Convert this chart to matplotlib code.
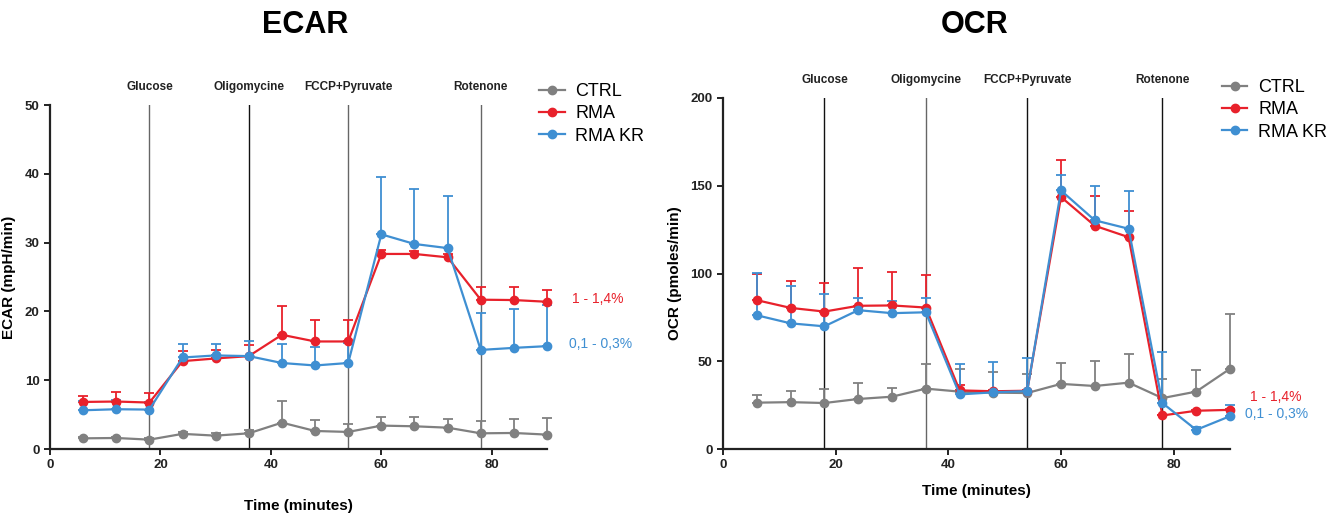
import numpy as np
import matplotlib
matplotlib.use("Agg")
import matplotlib.pyplot as plt

plt.rcParams['font.family'] = ['Liberation Sans', 'DejaVu Sans']

time = [6, 12, 18, 24, 30, 36, 42, 48, 54, 60, 66, 72, 78, 84, 90]
series_names = ["CTRL", "RMA", "RMA KR"]
events = ["Glucose", "Oligomycine", "FCCP+Pyruvate", "Rotenone"]
event_times = [18, 36, 54, 78]

# ECAR (mpH/min): means and upper SD
ecar_ctrl = [1.55, 1.6, 1.36, 2.2, 1.94, 2.28, 3.83, 2.62, 2.48, 3.4, 3.3, 3.1, 2.28, 2.33, 2.09]
ecar_ctrl_err = [0.2, 0.2, 0.2, 0.2, 0.4, 0.55, 3.2, 1.55, 1.2, 1.25, 1.3, 1.3, 1.85, 2.05, 2.4]
ecar_rma = [6.84, 6.9, 6.75, 12.77, 13.16, 13.5, 16.6, 15.63, 15.63, 28.35, 28.35, 27.86, 21.7, 21.65, 21.4]
ecar_rma_err = [0.93, 1.35, 1.35, 1.5, 1.24, 1.55, 4.2, 3.07, 3.17, 0.55, 0.45, 0.5, 1.9, 1.85, 1.75]
ecar_kr = [5.63, 5.78, 5.73, 13.3, 13.6, 13.5, 12.5, 12.14, 12.5, 31.2, 29.8, 29.2, 14.4, 14.7, 14.95]
ecar_kr_err = [1.4, 1.3, 1.1, 1.95, 1.65, 2.2, 2.8, 2.7, 2.9, 8.3, 8.0, 7.6, 5.4, 5.7, 6.05]

# OCR (pmoles/min)
ocr_ctrl = [26.4, 26.7, 26.2, 28.5, 29.8, 34.4, 32.7, 32.1, 31.9, 37.1, 35.9, 37.8, 29.0, 32.7, 45.7]
ocr_ctrl_err = [4.2, 6.5, 8.2, 8.9, 5.0, 13.9, 13.0, 11.6, 11.1, 11.8, 14.0, 16.1, 10.7, 12.4, 31.3]
ocr_rma = [84.8, 80.4, 78.3, 81.6, 81.8, 80.6, 33.4, 32.9, 33.2, 143.6, 127.2, 120.7, 19.1, 21.8, 22.3]
ocr_rma_err = [14.7, 15.3, 16.1, 21.4, 19.1, 18.3, 3.1, 0.5, 0.5, 20.9, 17.0, 14.9, 0.5, 0.5, 0.5]
ocr_kr = [76.2, 71.6, 69.9, 79.1, 77.4, 77.9, 31.1, 32.3, 33.0, 147.3, 130.3, 125.5, 26.2, 10.9, 18.7]
ocr_kr_err = [24.1, 21.0, 18.5, 7.2, 7.2, 8.1, 17.2, 17.2, 19.1, 8.6, 19.7, 21.4, 29.0, 1.9, 6.5]

colors = ["#808080", "#e8212b", "#3f8fd2"]


def draw_panel(ax, ylabel, ymax, ystep, data, errs, line_colors, notes, xlabelpad, legend_y):
    for xv, lc in zip(event_times, line_colors):
        ax.plot([xv, xv], [0, ymax], color=lc, lw=1.0, zorder=1)
    for xv, name in zip(event_times, events):
        ax.text(xv, ymax * 1.035, name, ha='center', va='bottom',
                fontsize=8.5, fontweight='bold', color='#222222')
    handles = []
    for name, y, e, c in zip(series_names, data, errs, colors):
        y = np.array(y)
        e = np.array(e)
        eb = ax.errorbar(time, y, yerr=[np.zeros_like(e), e], fmt='none',
                         ecolor=c, elinewidth=1.3, capsize=3.5, capthick=1.3, zorder=2)
        for art in eb.lines[1] + eb.lines[2]:
            art.set_clip_on(False)
        h, = ax.plot(time, y, '-o', color=c, lw=1.6, ms=6, zorder=3, label=name, clip_on=False)
        handles.append(h)
    ax.set_xlim(0, 90)
    ax.set_ylim(0, ymax)
    ax.set_xticks([0, 20, 40, 60, 80])
    ax.set_yticks(np.arange(0, ymax + 1, ystep))
    for s in ['top', 'right']:
        ax.spines[s].set_visible(False)
    for s in ['left', 'bottom']:
        ax.spines[s].set_linewidth(1.6)
        ax.spines[s].set_color('#222222')
    ax.tick_params(width=1.4, length=4, labelsize=9.5, colors='#222222')
    for lab in ax.get_xticklabels() + ax.get_yticklabels():
        lab.set_fontweight('bold')
    ax.set_xlabel("Time (minutes)", fontsize=11, fontweight='bold', labelpad=xlabelpad)
    ax.set_ylabel(ylabel, fontsize=11, fontweight='bold', labelpad=6)
    for (tx, ty, txt, tc) in notes:
        ax.text(tx, ty, txt, color=tc, fontsize=10, va='center', ha='left', clip_on=False)
    ax.legend(handles=handles, loc='upper left', bbox_to_anchor=(0.97, legend_y),
              frameon=False, fontsize=13, handlelength=1.4, handletextpad=0.6,
              labelspacing=0.3, borderaxespad=0)


fig = plt.figure(figsize=(13.28, 5.14), dpi=100)
ax1 = fig.add_axes([50 / 1328, 65 / 514, 497 / 1328, 344 / 514])
ax2 = fig.add_axes([723 / 1328, 65 / 514, 507 / 1328, 351 / 514])

draw_panel(ax1, "ECAR (mpH/min)", 50, 10,
           [ecar_ctrl, ecar_rma, ecar_kr],
           [ecar_ctrl_err, ecar_rma_err, ecar_kr_err],
           ['#666666', '#111111', '#666666', '#666666'],
           [(94.5, 21.8, "1 - 1,4%", colors[1]), (94.0, 15.3, "0,1 - 0,3%", colors[2])],
           20, 1.085)
draw_panel(ax2, "OCR (pmoles/min)", 200, 50,
           [ocr_ctrl, ocr_rma, ocr_kr],
           [ocr_ctrl_err, ocr_rma_err, ocr_kr_err],
           ['#111111', '#666666', '#111111', '#111111'],
           [(93.6, 29.5, "1 - 1,4%", colors[1]), (92.7, 20.0, "0,1 - 0,3%", colors[2])],
           9, 1.075)

fig.text(305 / 1328, 1 - 25 / 514, "ECAR", ha='center', va='center', fontsize=22, fontweight='bold')
fig.text(975 / 1328, 1 - 25 / 514, "OCR", ha='center', va='center', fontsize=22, fontweight='bold')

fig.savefig("out.png", dpi=100)
